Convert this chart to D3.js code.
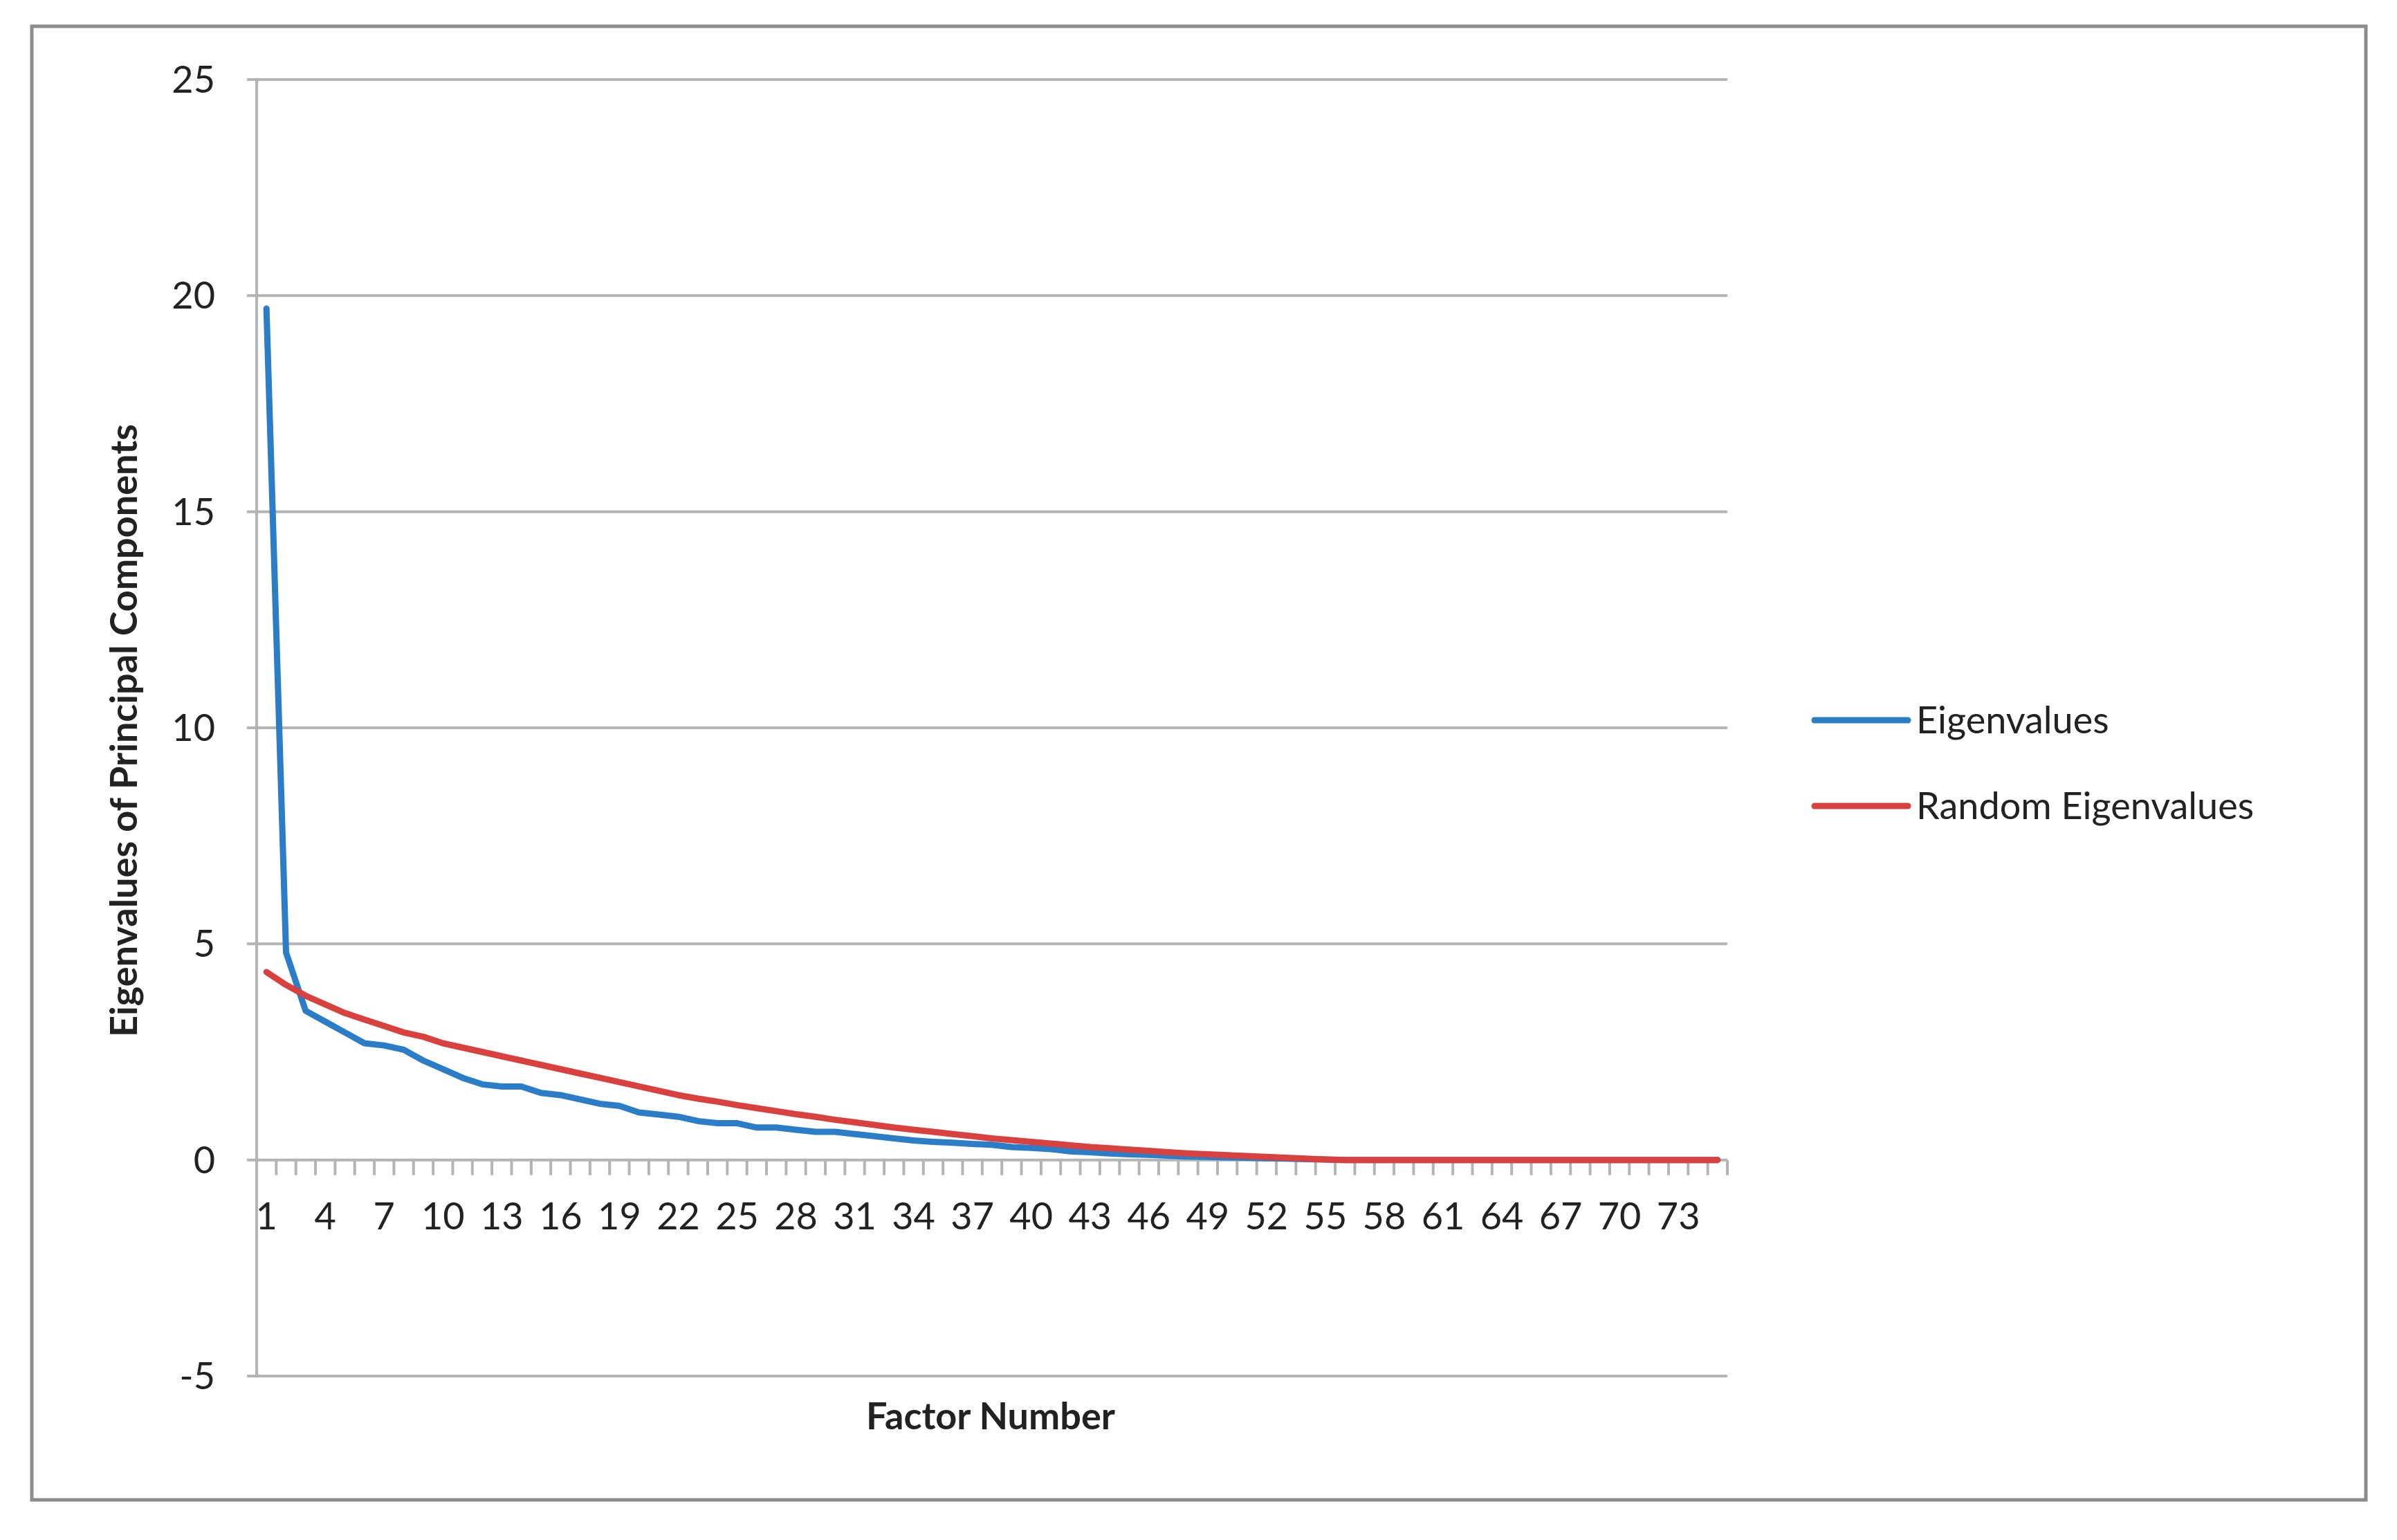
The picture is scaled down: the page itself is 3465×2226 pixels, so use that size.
<!DOCTYPE html>
<html>
<head>
<meta charset="utf-8">
<script src="https://cdn.jsdelivr.net/npm/d3@7"></script>
<style>
  body { margin: 0; background: #fff; }
  text { font-family: Lato, "Open Sans", sans-serif; }
</style>
</head>
<body>
<script>
// eigenvalues, factors 1..75
const eigenvalues = [19.7, 4.8, 3.45, 3.2, 2.95, 2.7, 2.65, 2.55, 2.3, 2.1, 1.9, 1.75, 1.7, 1.7, 1.55,
  1.5, 1.4, 1.3, 1.25, 1.1, 1.05, 1.0, 0.9, 0.85, 0.85, 0.75, 0.75, 0.7, 0.65, 0.65,
  0.6, 0.55, 0.5, 0.45, 0.42, 0.4, 0.37, 0.35, 0.3, 0.28, 0.25, 0.2, 0.18, 0.15, 0.13,
  0.12, 0.1, 0.08, 0.07, 0.06, 0.05, 0.04, 0.03, 0.02, 0.01, 0, 0, 0, 0, 0,
  0, 0, 0, 0, 0, 0, 0, 0, 0, 0, 0, 0, 0, 0, 0];
const randomEigenvalues = [4.35, 4.05, 3.8, 3.6, 3.4, 3.25, 3.1, 2.95, 2.85, 2.7, 2.6, 2.5, 2.4, 2.3, 2.2,
  2.1, 2.0, 1.9, 1.8, 1.7, 1.6, 1.5, 1.42, 1.35, 1.27, 1.2, 1.13, 1.06, 1.0, 0.93,
  0.87, 0.81, 0.75, 0.7, 0.65, 0.6, 0.55, 0.5, 0.46, 0.42, 0.38, 0.34, 0.3, 0.27, 0.24,
  0.21, 0.18, 0.15, 0.13, 0.11, 0.09, 0.07, 0.05, 0.03, 0.01, 0, 0, 0, 0, 0,
  0, 0, 0, 0, 0, 0, 0, 0, 0, 0, 0, 0, 0, 0, 0];
const factors = d3.range(1, 76);
const yTicks = [-5, 0, 5, 10, 15, 20, 25];
const seriesNames = ["Eigenvalues", "Random Eigenvalues"];
const colors = ["#2a7dc6", "#d8413e"];

const W = 3465, H = 2226;
const plotLeft = 371, plotRight = 2497, plotTop = 115, plotBottom = 1989;

const svg = d3.select("body").append("svg").attr("width", W).attr("height", H);

// outer frame
svg.append("rect").attr("x", 46).attr("y", 38).attr("width", 3374).attr("height", 2130)
   .attr("fill", "none").attr("stroke", "#8c8c8c").attr("stroke-width", 5);

const x = d3.scaleBand().domain(factors).range([plotLeft, plotRight]);
const y = d3.scaleLinear().domain([-5, 25]).range([plotBottom, plotTop]);

// gridlines
svg.append("g").selectAll("line").data(yTicks).join("line")
   .attr("x1", plotLeft - 14).attr("x2", plotRight)
   .attr("y1", d => y(d)).attr("y2", d => y(d))
   .attr("stroke", "#b4b4b4").attr("stroke-width", 4);

// y labels
svg.append("g").selectAll("text").data(yTicks).join("text")
   .attr("x", plotLeft - 60).attr("y", d => y(d)).attr("dy", "0.35em")
   .attr("text-anchor", "end").attr("font-size", 54).attr("fill", "#222")
   .text(d => d);

// y axis line
svg.append("line").attr("x1", plotLeft).attr("x2", plotLeft).attr("y1", plotTop).attr("y2", plotBottom)
   .attr("stroke", "#b4b4b4").attr("stroke-width", 4);

// x axis at 0 with ticks between categories
const xAxis = svg.append("g").attr("transform", `translate(0,${y(0)})`);
xAxis.selectAll("line").data(d3.range(0, 76)).join("line")
   .attr("x1", i => plotLeft + i * x.bandwidth()).attr("x2", i => plotLeft + i * x.bandwidth())
   .attr("y1", 0).attr("y2", 22).attr("stroke", "#b4b4b4").attr("stroke-width", 4);
xAxis.selectAll("text").data(factors.filter((d, i) => i % 3 === 0)).join("text")
   .attr("x", d => x(d) + x.bandwidth() / 2).attr("y", 100)
   .attr("text-anchor", "middle").attr("font-size", 54).attr("fill", "#222")
   .text(d => d);

// lines
const line = d3.line().x((d, i) => x(factors[i]) + x.bandwidth() / 2).y(d => y(d));
[eigenvalues, randomEigenvalues].forEach((s, k) => {
  svg.append("path").datum(s).attr("d", line)
     .attr("fill", "none").attr("stroke", colors[k]).attr("stroke-width", 9)
     .attr("stroke-linejoin", "round").attr("stroke-linecap", "round");
});

// axis titles
svg.append("text").attr("x", 1432).attr("y", 2066).attr("text-anchor", "middle")
   .attr("font-size", 54).attr("font-weight", "bold").attr("fill", "#222").text("Factor Number");
svg.append("text").attr("transform", "translate(198,1056) rotate(-90)").attr("text-anchor", "middle")
   .attr("font-size", 54).attr("font-weight", "bold").attr("fill", "#222")
   .text("Eigenvalues of Principal Components");

// legend
const legend = svg.append("g");
seriesNames.forEach((n, k) => {
  const ly = 1041 + k * 124;
  legend.append("line").attr("x1", 2623).attr("x2", 2758).attr("y1", ly).attr("y2", ly)
        .attr("stroke", colors[k]).attr("stroke-width", 9).attr("stroke-linecap", "round");
  legend.append("text").attr("x", 2770).attr("y", ly).attr("dy", "0.35em")
        .attr("font-size", 54).attr("fill", "#222").text(n);
});
</script>
</body>
</html>
